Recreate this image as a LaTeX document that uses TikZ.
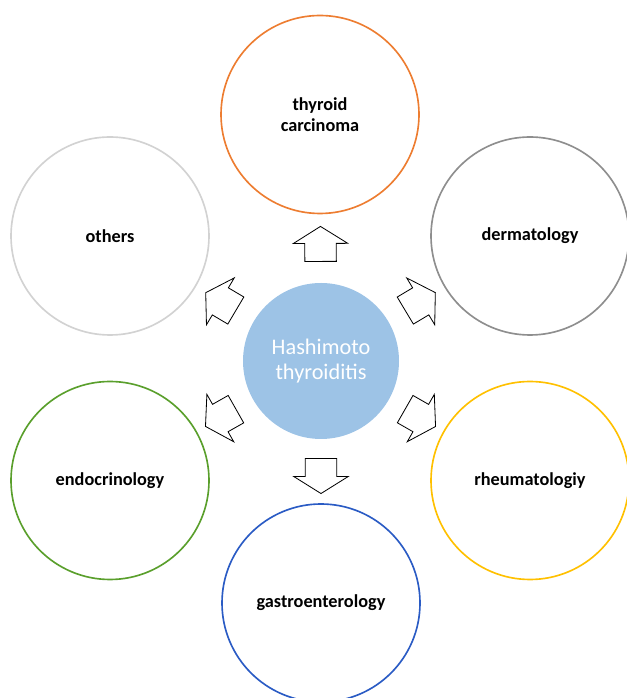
\documentclass[tikz,border=0pt]{standalone}
\usepackage{fontspec}
\setmainfont{Carlito}
\usetikzlibrary{shapes.arrows}

\definecolor{carcOrange}{HTML}{ED7D31}
\definecolor{dermGray}{HTML}{8E8E8E}
\definecolor{rheuYellow}{HTML}{FFC000}
\definecolor{gastroBlue}{HTML}{2A5BC4}
\definecolor{endoGreen}{HTML}{5A9F2C}
\definecolor{otherGray}{HTML}{D2D2D2}
\definecolor{hashBlue}{HTML}{9DC3E6}

\tikzset{
  field/.style={circle, draw, line width=1.4pt, minimum size=59.4mm, inner sep=0pt,
    align=center, font=\fontsize{15.6}{17.5}\selectfont\bfseries},
  blockarrow/.style={single arrow, draw=black, line width=0.7pt, fill=white,
    minimum height=10.5mm, minimum width=16.1mm, single arrow head extend=3.45mm,
    single arrow tip angle=116, inner xsep=0pt, inner ysep=4.6mm, sloped, allow upside down}
}

\begin{document}
\begin{tikzpicture}[x=0.3mm, y=0.3mm]
        \useasboundingbox (0,0) rectangle (627,698);
        \clip (0,0) rectangle (627,698);

        % Centre disc
        \node[circle, fill=hashBlue, minimum size=46.8mm, inner sep=0pt, align=center,
          text=white, font=\fontsize{19}{21.5}\selectfont] (hash) at (321,337)
          {Hashimoto\\thyroiditis};

        % Surrounding fields
        \node[field, draw=carcOrange] (carc) at (320,583.5) {thyroid\\carcinoma};
        \node[field, draw=dermGray] (derm) at (530,462) {dermatology};
        \node[field, draw=rheuYellow] (rheu) at (530,217.5) {rheumatologiy};
        \node[field, draw=gastroBlue] (gastro) at (321,95) {gastroenterology};
        \node[field, draw=endoGreen] (endo) at (110,217.5) {endocrinology};
        \node[field, draw=otherGray] (others) at (110,462) {others};

        % Block arrows pointing outwards
        \foreach \f in {carc,derm,rheu,gastro,endo,others} {
          \path (hash.center) -- node[blockarrow, pos=0.455] (to\f) {} (\f.center);
        }
    \end{tikzpicture}
\end{document}
